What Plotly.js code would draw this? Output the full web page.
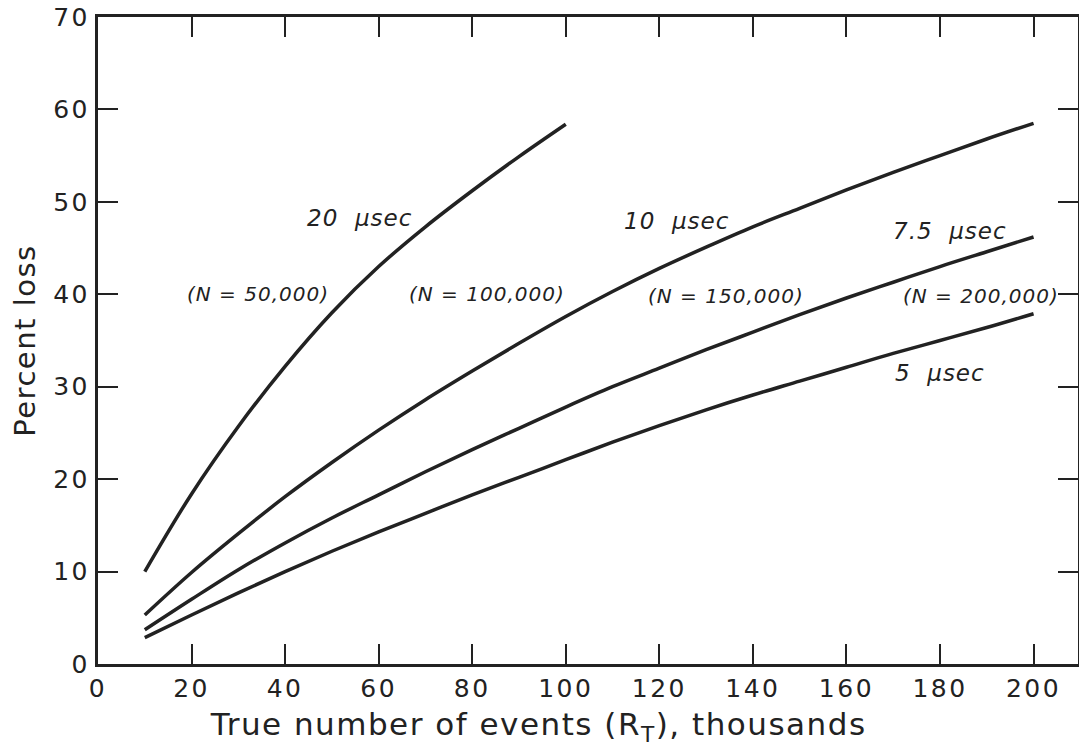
<!DOCTYPE html>
<html>
<head>
<meta charset="utf-8">
<script src="https://cdn.plot.ly/plotly-3.0.1.min.js"></script>
<style>
html,body{margin:0;padding:0;background:#fff;}
.xtitle,.ytitle{letter-spacing:1.5px;}
.xtick text,.ytick text{letter-spacing:2.5px;}
.annotation-text{letter-spacing:1px;}
.annotation:last-of-type .annotation-text{letter-spacing:1.5px;}
</style>
</head>
<body>
<div id="chart" style="width:1079px;height:749px;"></div>
<script>
// Data (x: true events, thousands; y: percent loss)
const x20 = [10, 20, 30, 40, 50, 60, 70, 80, 90, 100];
const y20 = [10.0, 18.4, 25.7, 32.2, 38.0, 43.0, 47.3, 51.2, 54.9, 58.4];

const xAll = [10, 20, 30, 40, 50, 60, 70, 80, 90, 100, 110, 120, 130, 140, 150, 160, 170, 180, 190, 200];
const y10 = [5.3, 9.9, 14.1, 18.1, 21.8, 25.3, 28.6, 31.7, 34.7, 37.6, 40.3, 42.8, 45.1, 47.3, 49.3, 51.3, 53.2, 55.0, 56.8, 58.5];
const y75 = [3.7, 7.0, 10.2, 13.1, 15.8, 18.3, 20.8, 23.2, 25.5, 27.8, 30.0, 32.0, 34.0, 35.9, 37.8, 39.6, 41.3, 43.0, 44.6, 46.2];
const y5  = [2.85, 5.3, 7.7, 10.0, 12.2, 14.3, 16.3, 18.3, 20.2, 22.1, 24.0, 25.8, 27.5, 29.1, 30.6, 32.1, 33.6, 35.0, 36.4, 37.9];

const curveLabels = ["20  \u03bcsec", "10  \u03bcsec", "7.5  \u03bcsec", "5  \u03bcsec"];
const curveLabelX = [55.8, 123.6, 182.1, 180];
const curveLabelY = [48.3, 47.9, 46.8, 31.5];

const nLabels = ["(N = 50,000)", "(N = 100,000)", "(N = 150,000)", "(N = 200,000)"];
const nLabelX = [34.1, 83.2, 134.2, 188.7];
const nLabelY = [40.0, 40.0, 39.8, 39.8];

const xTitle = "True number of events (R<sub>T</sub>), thousands";
const yTitle = "Percent loss";

const ink = "#222222";
const fam = "DejaVu Sans, Verdana, sans-serif";
const lineStyle = {color: ink, width: 3.5, shape: "spline", smoothing: 1};

const traces = [
  {x: x20, y: y20, mode: "lines", line: lineStyle, name: "20 usec", hoverinfo: "skip"},
  {x: xAll, y: y10, mode: "lines", line: lineStyle, name: "10 usec", hoverinfo: "skip"},
  {x: xAll, y: y75, mode: "lines", line: lineStyle, name: "7.5 usec", hoverinfo: "skip"},
  {x: xAll, y: y5, mode: "lines", line: lineStyle, name: "5 usec", hoverinfo: "skip"}
];

const annotations = [];
curveLabels.forEach((t, i) => annotations.push({
  x: curveLabelX[i], y: curveLabelY[i], xref: "x", yref: "y",
  text: "<i>" + t + "</i>", showarrow: false,
  font: {family: fam, size: 23, color: ink}
}));
nLabels.forEach((t, i) => annotations.push({
  x: nLabelX[i], y: nLabelY[i], xref: "x", yref: "y",
  text: "<i>" + t + "</i>", showarrow: false,
  font: {family: fam, size: 20, color: ink}
}));
// x-axis title, centred on the page as in the reference
annotations.push({
  x: 0.449, y: -0.096, xref: "paper", yref: "paper",
  xanchor: "center", yanchor: "middle",
  text: xTitle, showarrow: false,
  font: {family: fam, size: 31, color: ink}
});

const axisCommon = {
  showline: true, linecolor: ink, linewidth: 3, mirror: "ticks",
  ticks: "inside", ticklen: 20, tickwidth: 2, tickcolor: ink,
  showgrid: false, zeroline: false,
  tickfont: {family: fam, size: 25, color: ink}
};

const layout = {
  width: 1079, height: 749,
  margin: {l: 98, r: 1, t: 17, b: 85},
  paper_bgcolor: "#ffffff", plot_bgcolor: "#ffffff",
  showlegend: false,
  xaxis: Object.assign({}, axisCommon, {
    range: [0, 209.5], tickmode: "linear", tick0: 0, dtick: 20
  }),
  yaxis: Object.assign({}, axisCommon, {
    range: [0, 70], tickmode: "linear", tick0: 0, dtick: 10,
    title: {text: yTitle, standoff: 10,
      font: {family: fam, size: 29, color: ink}}
  }),
  annotations: annotations
};

Plotly.newPlot("chart", traces, layout, {displayModeBar: false, staticPlot: true});
</script>
</body>
</html>
